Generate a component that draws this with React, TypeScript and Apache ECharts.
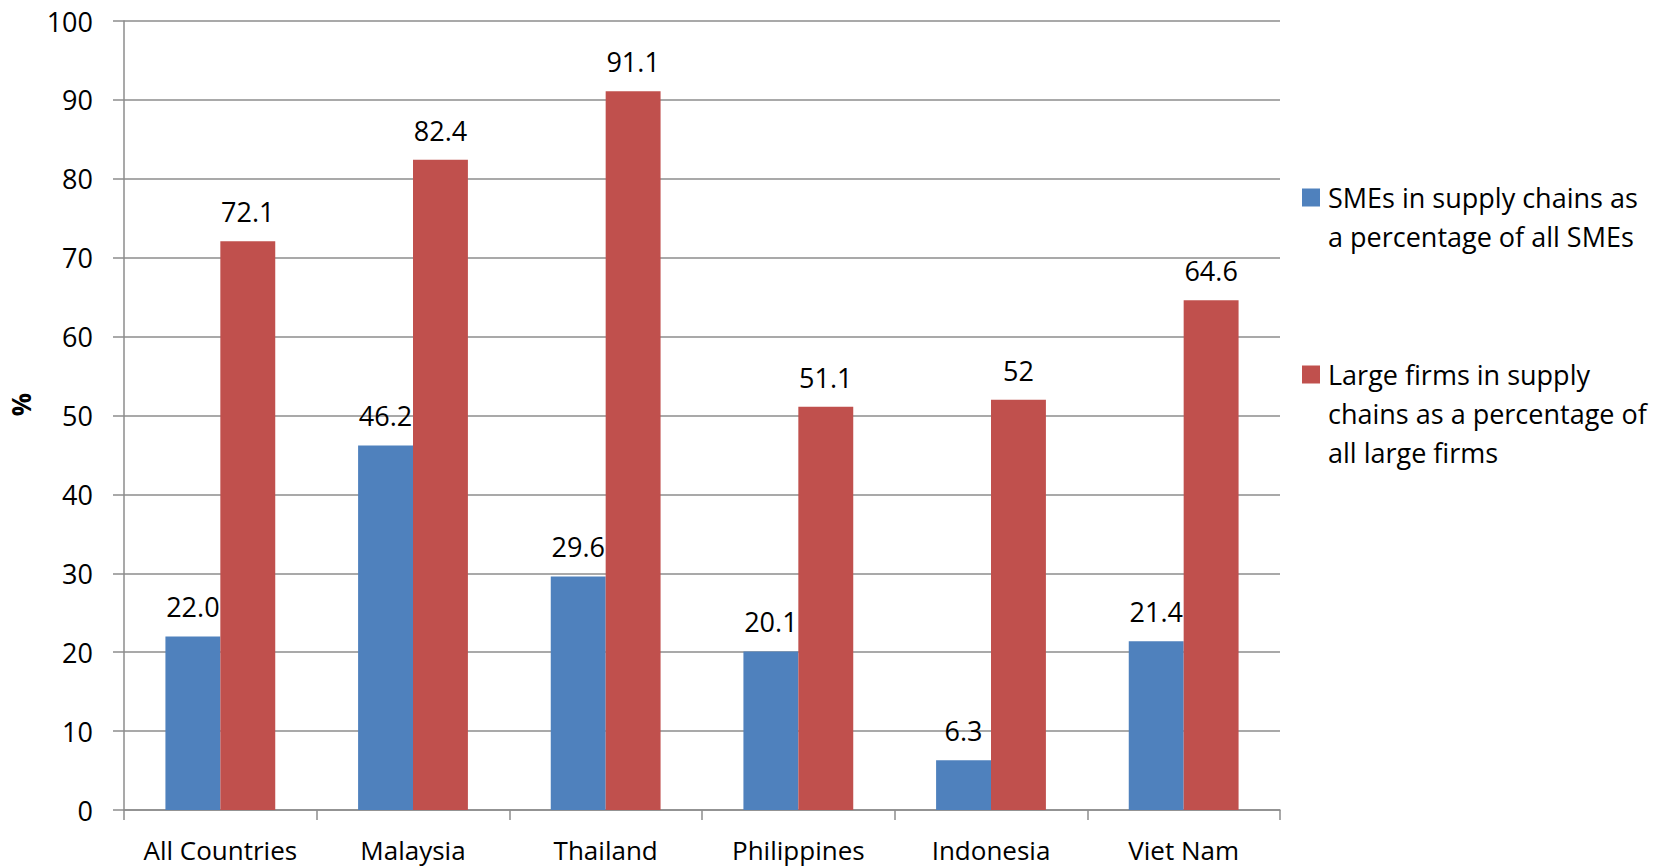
import React, { useEffect, useRef } from "react";
import * as echarts from "echarts";

const categories = ["All Countries", "Malaysia", "Thailand", "Philippines", "Indonesia", "Viet Nam"];
const smeValues = [22.0, 46.2, 29.6, 20.1, 6.3, 21.4];
const smeLabels = ["22.0", "46.2", "29.6", "20.1", "6.3", "21.4"];
const largeValues = [72.1, 82.4, 91.1, 51.1, 52, 64.6];
const largeLabels = ["72.1", "82.4", "91.1", "51.1", "52", "64.6"];
const seriesNames = [
  "SMEs in supply chains as a percentage of all SMEs",
  "Large firms in supply chains as a percentage of all large firms",
];
const legendLines: Record<string, string[]> = {
  [seriesNames[0]]: ["SMEs in supply chains as", "a percentage of all SMEs"],
  [seriesNames[1]]: ["Large firms in supply", "chains as a percentage of", "all large firms"],
};

const FONT = "'Open Sans', 'Noto Sans', sans-serif";

export default function App() {
  const ref = useRef<HTMLDivElement>(null);
  useEffect(() => {
    if (!ref.current) return;
    const chart = echarts.init(ref.current, null, { renderer: "svg" });
    const labelStyle = { fontFamily: FONT, fontSize: 27, color: "#000" };
    chart.setOption({
      animation: false,
      backgroundColor: "#fff",
      textStyle: { fontFamily: FONT },
      grid: { left: 116, right: 389, top: 21, bottom: 56, containLabel: false },
      legend: {
        orient: "vertical",
        left: 1297,
        top: 134,
        itemGap: 21,
        itemWidth: 18,
        itemHeight: 18,
        icon: "rect",
        selectedMode: false,
        data: seriesNames,
        formatter: (name: string) => {
          const lines = legendLines[name] || [name];
          const pad = new Array(lines.length - 1).fill("").join("\n");
          return pad + "\n" + lines.join("\n");
        },
        textStyle: {
          fontFamily: FONT,
          fontSize: 27,
          color: "#000",
          lineHeight: 39,
          padding: [0, 0, 0, 3],
        },
      },
      xAxis: {
        type: "category",
        data: categories,
        boundaryGap: true,
        axisLine: { show: true, lineStyle: { color: "#8c8c8c", width: 1.5 } },
        axisTick: { show: true, interval: 0, length: 10, lineStyle: { color: "#8c8c8c", width: 1.5 } },
        axisLabel: { interval: 0, margin: 27, lineHeight: 26, fontFamily: FONT, fontSize: 26, color: "#000" },
        splitLine: { show: false },
      },
      yAxis: {
        type: "value",
        min: 0,
        max: 100,
        interval: 10,
        name: "%",
        nameLocation: "middle",
        nameRotate: 90,
        nameGap: 90,
        nameTextStyle: {
          fontFamily: FONT,
          fontSize: 26,
          fontWeight: "bold",
          color: "#000",
          padding: [0, 0, 0, 22],
        },
        axisLine: { show: true, lineStyle: { color: "#8c8c8c", width: 1.5 } },
        axisTick: { show: true, length: 11, lineStyle: { color: "#8c8c8c", width: 1.5 } },
        axisLabel: { margin: 31, fontFamily: FONT, fontSize: 27, color: "#000" },
        splitLine: { show: true, lineStyle: { color: "#8c8c8c", width: 1.5 } },
      },
      series: [
        {
          name: seriesNames[0],
          type: "bar",
          data: smeValues,
          barGap: "0%",
          barCategoryGap: "43%",
          itemStyle: { color: "#4F81BD" },
          label: {
            show: true,
            position: "top",
            distance: 16,
            ...labelStyle,
            formatter: (p: any) => smeLabels[p.dataIndex],
          },
        },
        {
          name: seriesNames[1],
          type: "bar",
          data: largeValues,
          barGap: "0%",
          barCategoryGap: "43%",
          itemStyle: { color: "#C0504D" },
          label: {
            show: true,
            position: "top",
            distance: 16,
            ...labelStyle,
            formatter: (p: any) => largeLabels[p.dataIndex],
          },
        },
      ],
    });
    return () => chart.dispose();
  }, []);
  return (
    <div
      ref={ref}
      style={{ position: "fixed", left: 0, top: 0, width: 1669, height: 866, background: "#fff" }}
    />
  );
}
